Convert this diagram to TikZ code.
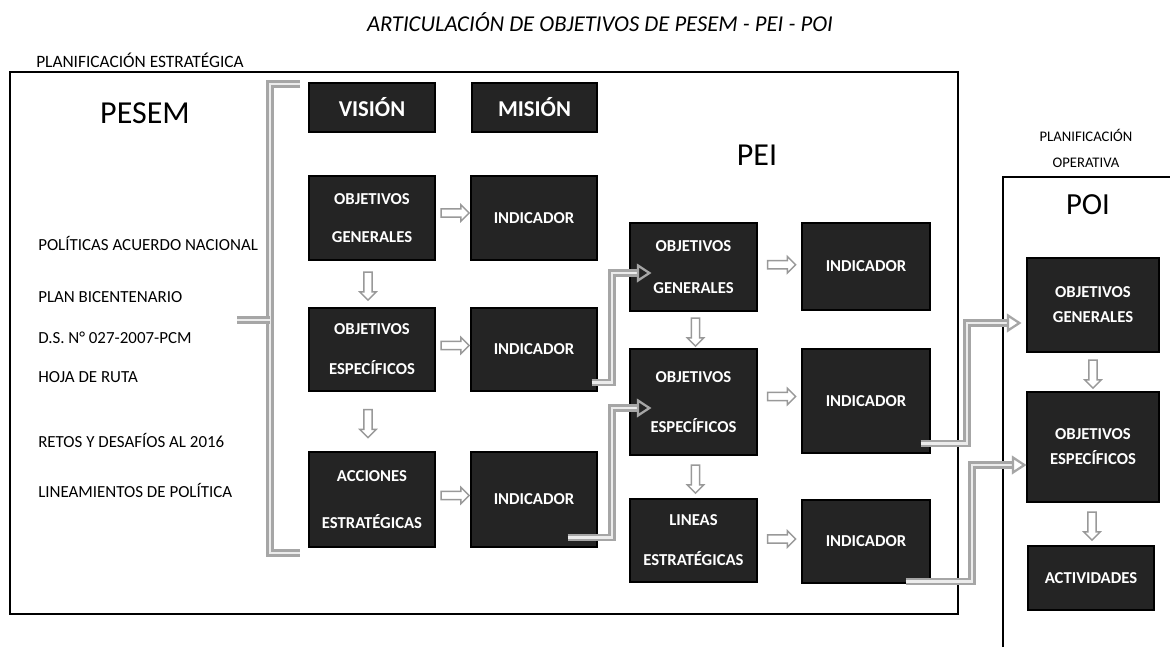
\documentclass[tikz,border=0pt]{standalone}
\usepackage{fontspec}
\setmainfont{Carlito}
\usetikzlibrary{arrows.meta,shapes.arrows,calc}
\tikzset{
  sz/.style 2 args={minimum width=#1*0.75pt, minimum height=#2*0.75pt},
  dbox/.style={rectangle, fill=black!86, draw=black, line width=0.8pt, text=white,
    font=\bfseries\fontsize{12.5}{15}\selectfont, align=center, inner sep=0pt},
  bigbox/.style={dbox, font=\bfseries\fontsize{17}{19}\selectfont},
  rarrow/.style={single arrow, draw=gray!80, fill=white, line width=1.1pt,
    minimum height=21pt, minimum width=12pt, single arrow head extend=3pt, inner sep=2.6pt},
  darrow/.style={rarrow, shape border rotate=270},
  conn/.style={draw=gray!70, double=gray!15, line width=1.7pt, double distance=2pt,
    -{Triangle[open,length=11pt,width=14pt]}},
  connplain/.style={draw=gray!70, double=gray!15, line width=1.7pt, double distance=2pt},
  lab/.style={font=\fontsize{12.7}{15}\selectfont, anchor=west, inner sep=0pt},
}
\begin{document}
\begin{tikzpicture}[x=0.75pt, y=-0.75pt]
\useasboundingbox (0,0) rectangle (1170,647);
\fill[white] (0,0) rectangle (1170,647);

% title and labels
\node[font=\itshape\fontsize{17}{20}\selectfont] (title) at (600,22) {ARTICULACIÓN DE OBJETIVOS DE PESEM - PEI - POI};
\node[lab, font=\fontsize{13}{15}\selectfont] (pe) at (36,60) {PLANIFICACIÓN ESTRATÉGICA};
\node[align=center, font=\fontsize{11}{19.5}\selectfont] (po) at (1086,148) {PLANIFICACIÓN\\OPERATIVA};

% frames
\draw[line width=1pt] (10,72) rectangle (958,614);
\draw[line width=1pt] (1003,647) -- (1003,177) -- (1170,177);

\node[font=\fontsize{24}{28}\selectfont] (pesem) at (145,113) {PESEM};
\node[font=\fontsize{24}{28}\selectfont] (pei) at (757,155) {PEI};
\node[font=\fontsize{23}{28}\selectfont] (poi) at (1088,205) {POI};

% left list
\node[lab] (l1) at (38,243) {POLÍTICAS ACUERDO NACIONAL};
\node[lab] (l2) at (38,297) {PLAN BICENTENARIO};
\node[lab] (l3) at (38,338) {D.S. N° 027-2007-PCM};
\node[lab] (l4) at (38,377) {HOJA DE RUTA};
\node[lab] (l5) at (38,440) {RETOS Y DESAFÍOS AL 2016};
\node[lab] (l6) at (38,490) {LINEAMIENTOS DE POLÍTICA};

% bracket
\coordinate (b1) at (300,84);
\coordinate (b2) at (270,84);
\coordinate (b3) at (270,553);
\coordinate (b4) at (300,553);
\coordinate (b5) at (270,320);
\coordinate (b6) at (237,320);
\draw[connplain] (b1) -- (b2) -- (b3) -- (b4);
\draw[connplain] (b5) -- (b6);

% PESEM boxes
\node[bigbox, sz={126}{49}] (vis) at (372,107.5) {VISIÓN};
\node[bigbox, sz={125}{49}] (mis) at (534.5,107.5) {MISIÓN};
\node[dbox, sz={126}{84}] (og1) at (372,218) {OBJETIVOS\\[13.5pt]GENERALES};
\node[dbox, sz={126}{84}] (ind1) at (534,218) {INDICADOR};
\node[dbox, sz={126}{83}] (oe1) at (372,349.5) {OBJETIVOS\\[15pt]ESPECÍFICOS};
\node[dbox, sz={126}{83}] (ind2) at (534,349.5) {INDICADOR};
\node[dbox, sz={126}{95}] (ae1) at (372,499.5) {ACCIONES\\[20pt]ESTRATÉGICAS};
\node[dbox, sz={126}{95}] (ind3) at (534,499.5) {INDICADOR};

% PEI boxes
\node[dbox, sz={127}{88}] (og2) at (693.5,267) {OBJETIVOS\\[16.5pt]GENERALES};
\node[dbox, sz={128}{87}] (ind4) at (866,266.5) {INDICADOR};
\node[dbox, sz={127}{106}] (oe2) at (693.5,402) {OBJETIVOS\\[23pt]ESPECÍFICOS};
\node[dbox, sz={128}{104}] (ind5) at (866,401) {INDICADOR};
\node[dbox, sz={127}{83}] (le2) at (693.5,540.5) {LINEAS\\[15pt]ESTRATÉGICAS};
\node[dbox, sz={128}{83}] (ind6) at (866,541.5) {INDICADOR};

% POI boxes
\node[dbox, sz={132}{94}] (og3) at (1093,305) {OBJETIVOS\\[3.75pt]GENERALES};
\node[dbox, sz={132}{110}] (oe3) at (1093,447) {OBJETIVOS\\[3.75pt]ESPECÍFICOS};
\node[dbox, sz={126}{64}] (act3) at (1091,578) {ACTIVIDADES};

% small block arrows
\node[rarrow] (r1) at ($(og1.east)!0.5!(ind1.west)+(0,-5)$) {};
\node[rarrow] (r2) at ($(oe1.east)!0.5!(ind2.west)+(0,-4)$) {};
\node[rarrow] (r3) at ($(ae1.east)!0.5!(ind3.west)+(0,-4)$) {};
\node[darrow] (d1) at ($(og1.south)!0.5!(oe1.north)+(-4,0)$) {};
\node[darrow] (d2) at ($(oe1.south)!0.5!(ae1.north)+(-4,0)$) {};
\node[rarrow] (r4) at ($(og2.east)!0.5!(ind4.west)+(0,-2)$) {};
\node[rarrow] (r5) at ($(oe2.east)!0.5!(ind5.west)+(0,-5)$) {};
\node[rarrow] (r6) at ($(le2.east)!0.5!(ind6.west)+(0,-2)$) {};
\node[darrow] (d3) at ($(og2.south)!0.5!(oe2.north)+(2,0)$) {};
\node[darrow] (d4) at ($(oe2.south)!0.5!(le2.north)+(2,0)$) {};
\node[darrow] (d5) at ($(og3.south)!0.5!(oe3.north)$) {};
\node[darrow] (d6) at ($(oe3.south)!0.5!(act3.north)$) {};

% connectors
\coordinate (e1) at ($(og2.west)+(22,6)$);
\coordinate (e2) at ($(oe2.west)+(22,6)$);
\coordinate (e3) at ($(og3.west)+(-5,18)$);
\coordinate (e4) at ($(oe3.west)+(0,18)$);
\coordinate (v1) at (612,0);
\coordinate (v2) at (967,0);
\coordinate (v3) at (972,0);
\draw[conn] ($(ind2.south east)+(-6,-9)$) -| (v1 |- e1) -- (e1);
\draw[conn] ($(ind3.south east)+(-30,-10)$) -| (v1 |- e2) -- (e2);
\draw[conn] ($(ind5.south east)+(-10,-10)$) -| (v2 |- e3) -- (e3);
\draw[conn] ($(ind6.south east)+(-25,-2)$) -| (v3 |- e4) -- (e4);
\end{tikzpicture}
\end{document}
